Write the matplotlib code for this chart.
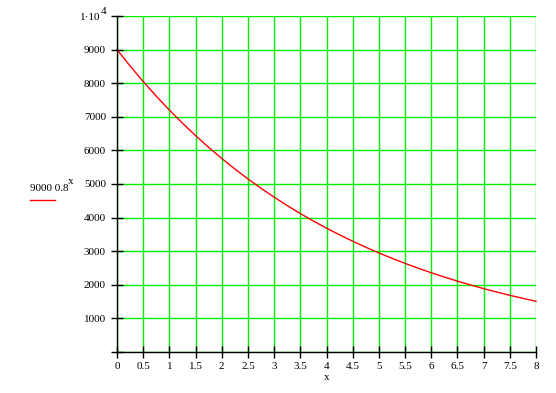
import matplotlib
matplotlib.use("Agg")
import matplotlib.pyplot as plt
from matplotlib.lines import Line2D

x_vals = [0, 0.25, 0.5, 0.75, 1, 1.25, 1.5, 1.75, 2, 2.25, 2.5, 2.75, 3, 3.25, 3.5, 3.75,
          4, 4.25, 4.5, 4.75, 5, 5.25, 5.5, 5.75, 6, 6.25, 6.5, 6.75, 7, 7.25, 7.5, 7.75, 8]
y_vals = [9000, 8512, 8050, 7613, 7200, 6809, 6440, 6090, 5760, 5447, 5152, 4872, 4608, 4358,
          4121, 3898, 3686, 3486, 3297, 3118, 2949, 2789, 2638, 2494, 2359, 2231, 2110, 1995,
          1887, 1785, 1688, 1596, 1510]
x_ticks = [0, 0.5, 1, 1.5, 2, 2.5, 3, 3.5, 4, 4.5, 5, 5.5, 6, 6.5, 7, 7.5, 8]
x_tick_labels = ["0", "0.5", "1", "1.5", "2", "2.5", "3", "3.5", "4", "4.5", "5", "5.5",
                 "6", "6.5", "7", "7.5", "8"]
y_ticks = [0, 1000, 2000, 3000, 4000, 5000, 6000, 7000, 8000, 9000, 10000]
y_tick_labels = ["", "1000", "2000", "3000", "4000", "5000", "6000", "7000", "8000", "9000", ""]
y_top_base = "1\u00b710"
y_top_exponent = "4"
legend_base = "9000 0.8"
legend_exponent = "x"

plt.rcParams['font.family'] = ['Liberation Serif', 'DejaVu Serif']

fig = plt.figure(figsize=(5.56, 3.93), dpi=100)
ax = fig.add_axes([117/556, 1 - 352/393, (536 - 117)/556, (352 - 16)/393])

ax.plot(x_vals, y_vals, color='#ff0000', lw=1, zorder=3, clip_on=False)
ax.set_xlim(0, 8)
ax.set_ylim(0, 10000)
ax.set_xticks(x_ticks)
ax.set_xticklabels(x_tick_labels, fontsize=8)
ax.set_yticks(y_ticks)
ax.set_yticklabels(y_tick_labels, fontsize=8)
ax.grid(True, color='#00ee00', lw=1, zorder=1)
ax.set_axisbelow(True)
for s in ['top', 'right']:
    ax.spines[s].set_visible(False)
for s in ['left', 'bottom']:
    ax.spines[s].set_color('black')
    ax.spines[s].set_linewidth(1)
    ax.spines[s].set_zorder(4)
ax.tick_params(direction='inout', length=8, width=1, color='black', pad=3)
ax.tick_params(axis='y', pad=4)
ax.set_xlabel("x", fontsize=8, labelpad=2)

# top y tick label with exponent
fig.text(100/556, 1 - 17/393, y_top_base, fontsize=8, ha='right', va='center')
fig.text(101/556, 1 - 11/393, y_top_exponent, fontsize=8, ha='left', va='center')

# legend
fig.text(30/556, 1 - 188/393, legend_base, fontsize=8, ha='left', va='center')
fig.text(68/556, 1 - 182/393, legend_exponent, fontsize=8, ha='left', va='center')
fig.add_artist(Line2D([30/556, 55/556], [1 - 200/393, 1 - 200/393],
                      transform=fig.transFigure, color='#ff0000', lw=1))

fig.savefig("out.png", dpi=100, facecolor='white')
